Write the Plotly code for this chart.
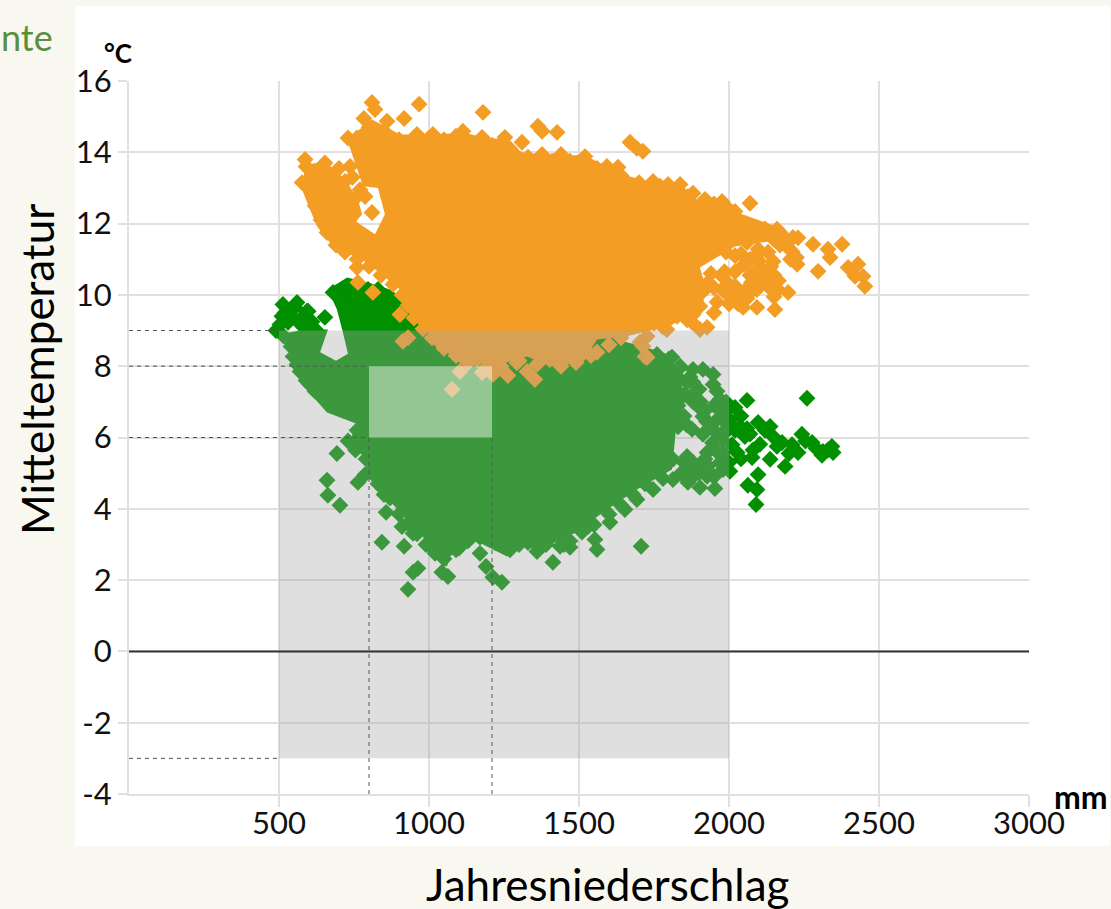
import plotly.graph_objects as go

# Outline of the solid part of each cloud (precipitation mm, temperature C)
green_core_x = [497,570,663,637,690,730,710,693,663,727,797,870,970,1570,1627,1747,1797,1840,1850,1823,1810,1770,1693,1580,1493,1437,1360,1313,1260,1147,1070,1060,1027,970,903,827,793,730,763,660,577,547]
green_core_y = [8.89,9.0,9.03,8.39,8.15,8.35,9.05,9.59,10.15,10.49,10.35,10.15,9.59,9.59,8.75,8.47,8.33,7.7,7.0,6.2,5.1,4.91,4.54,3.9,3.34,3.14,2.78,3.06,2.66,3.14,2.66,2.38,2.58,3.34,3.9,4.63,5.39,5.86,6.37,6.7,7.49,8.27]
orange_core_x = [570,597,653,720,763,777,757,820,853,830,780,727,810,903,1037,1113,1177,1253,1310,1370,1437,1513,1593,1670,1737,1837,1880,1970,2027,2160,2180,2020,1903,1920,1913,1837,1803,1737,1660,1560,1513,1403,1327,1213,1103,1037,980,913,903,793,680,627,603]
orange_core_y = [13.1,13.66,13.74,13.24,12.68,12.26,12.06,11.7,12.26,13.0,13.05,14.36,14.92,14.5,14.5,14.56,14.42,14.36,14.0,13.94,13.88,13.94,13.6,13.32,13.16,13.1,12.68,12.68,12.31,11.92,11.56,11.36,10.77,10.3,9.59,9.3,9.12,9.0,8.84,8.75,8.11,8.0,8.27,8.0,8.27,8.67,9.03,9.68,10.15,10.91,11.36,11.92,12.4]

# Individual diamonds
green_x = [2060,2260,2020,2003,2037,2053,2097,2137,2147,2103,2177,2243,2277,2230,2027,2077,2137,2187,2003,2097,2063,2093,2090,2313,2343,2347,
           2020,2040,2060,2080,2120,2160,2200,2210,2255,2290,2310,2330,2040,2010,2070,
           1760,1810,1837,1880,1913,1947,1947,1827,1860,1870,1970,1980,1913,1877,1913,1980,1980,1927,1860,1813,1813,1863,1903,1953,1980,1927,1747,1693,1653,1603,1553,1560,1470,1437,1707,
           1850,1900,1830,1850,1900,1950,1830,1850,1890,1930,1970,1960,1950,1975,1880,1990,1840,
           1870,1860,1905,1925,1945,1960,1920,1830,1800,1880,1990,1960,1985,2000,1995,1900,1860,1950,1885,1920,1880,
           693,660,663,703,763,787,810,857,910,947,917,843,963,947,930,1063,1043,1170,1190,1213,1243,1263,1413,
           503,520,553,593,570,653,530,513,560,597,
           547,570,603,653,720,727,680,797,853,713,
           1000,1100,1200,1300,1360,1450,1530,
           870,900,930,960,990,1020,1050,1090,1130,1170,1220,1270,1330,1390,1470,1510,1550,1600,1640,1680,1720,1780,
           560,590,620,680,720,780,760,730,755,790,810,830,850,
           490,515,540,510,540,575,610,625,600,700,760,830]
green_y = [7.04,7.1,6.84,6.5,6.31,6.03,6.42,6.31,6.03,5.81,5.86,6.09,5.86,5.58,5.58,5.44,5.39,5.19,5.05,4.96,4.66,4.54,4.12,5.61,5.75,5.58,
           6.2,6.6,6.25,5.65,6.2,5.75,5.55,5.8,5.9,5.7,5.5,5.65,5.4,5.8,6.1,
           8.33,8.25,8.0,7.91,7.91,7.77,7.49,7.71,7.55,7.15,7.07,6.7,6.59,6.23,6.09,6.14,5.58,5.58,5.47,5.39,4.82,4.74,4.6,4.57,5.1,4.91,4.54,4.26,3.98,3.62,3.14,2.86,2.92,2.95,2.95,
           7.2,7.35,6.9,6.6,6.85,6.9,6.3,5.3,5.2,5.2,5.3,6.5,6.2,5.95,7.0,6.4,5.0,
           7.7,6.35,7.0,6.45,5.85,5.6,6.75,7.9,8.2,7.55,7.0,7.3,6.7,5.3,6.2,5.0,5.05,4.9,4.95,5.4,5.3,
           5.55,4.8,4.38,4.1,4.74,4.96,5.1,3.9,3.5,3.31,2.95,3.06,2.33,2.22,1.74,2.1,2.22,2.75,2.38,2.08,1.94,2.92,2.5,
           9.17,9.5,9.65,9.54,9.31,9.37,9.23,9.73,9.79,9.54,
           8.27,7.85,7.49,7.21,6.84,10.24,10.07,10.15,9.96,9.79,
           3.0,2.9,3.2,3.0,2.8,3.0,3.5,
           4.3,3.85,3.6,3.3,3.0,2.75,2.6,2.85,3.1,3.2,3.05,2.85,3.05,3.0,3.1,3.35,3.55,3.85,4.1,4.4,4.7,4.85,
           8.05,7.6,7.3,7.0,6.85,6.5,6.2,5.9,5.65,5.4,5.0,4.7,4.4,
           9.0,8.85,8.55,9.4,9.4,9.15,9.25,9.0,9.05,10.0,10.3,10.15]
orange_x = [810,820,967,917,783,730,587,653,577,860,1013,960,
            1180,1363,1377,1427,1113,1177,1253,1310,1330,1377,1440,1520,1593,1630,1670,1693,1713,1747,1797,1837,1863,1920,1977,2020,2070,
            2160,2103,2213,2210,2227,2280,2330,2377,2337,2297,2397,2430,2447,2453,2420,2147,2097,2060,2013,2070,2093,2120,2093,2163,2197,2153,2093,2047,2027,2070,1977,1977,1930,1910,1903,1877,1903,1927,1793,1827,1770,1703,1720,1727,
            903,930,913,1027,1070,1103,1077,1177,1213,1263,1327,1353,1403,1160,1293,1103,1503,1560,1713,1727,
            763,813,760,737,680,720,810,787,760,
            760,800,850,900,950,1000,1050,1090,1140,1210,1270,1340,1410,1470,1560,1640,1700,1770,1830,1880,1950,2000,2060,2120,
            590,620,610,640,700,620,640,660,690,720,760,800,840,880,910,930,950,980,1010,1050,1090,1130,1190,1240,1300,1360,1440,1490,1540,1600,1640,
            2040,2090,2130,2170,2050,2100,2140,1940,1985,2020,2070,2110,2150,1950,2000,2020,2060,2100,2130,2150,1960,2000,1950,1880,1860,1850,1800,1780,1750,2200,2225,2205,2190,2230,
            1935,1990,2030,2050,2075,2110,2130,2165,1990,2020,2150,2170,745,770]
orange_y = [15.4,15.2,15.35,14.95,14.95,14.4,13.8,13.7,13.15,14.87,14.5,14.5,
            15.12,14.73,14.59,14.56,14.59,14.42,14.42,14.28,13.86,13.94,13.94,13.88,13.6,13.58,14.28,14.11,14.03,13.18,13.1,13.1,12.76,12.68,12.62,12.34,12.57,
            11.84,11.75,11.61,11.22,10.86,11.42,11.28,11.42,11.05,10.66,10.77,10.86,10.52,10.24,10.52,10.94,11.28,11.47,11.64,11.0,10.72,10.49,10.15,10.15,10.07,9.59,9.65,9.65,9.93,10.07,10.15,10.52,10.35,10.07,9.68,9.23,9.03,9.09,9.03,9.4,9.31,8.67,8.27,8.84,
            9.45,8.8,8.7,8.75,8.56,7.85,7.35,7.82,7.77,7.74,7.85,7.63,8.19,8.19,8.1,8.33,8.27,8.39,8.56,8.25,
            10.35,10.07,10.77,13.6,13.33,13.18,12.31,12.76,12.76,
            14.4,14.7,14.6,14.35,14.4,14.4,14.35,14.45,14.25,14.2,14.1,13.75,13.75,13.75,13.55,13.35,13.15,13.05,12.95,12.85,12.55,12.4,12.0,11.85,
            13.6,13.45,13.0,13.4,13.55,12.5,12.1,11.75,11.4,11.2,11.0,10.8,10.55,10.3,10.0,9.7,9.35,9.05,8.8,8.5,8.3,8.1,7.95,8.0,8.15,8.05,8.0,8.1,8.3,8.6,8.8,
            11.15,11.1,11.2,11.4,10.85,10.95,10.8,10.6,10.65,10.65,10.55,10.7,10.55,10.2,10.3,10.25,9.9,10.3,10.25,9.95,9.8,9.75,9.5,9.45,9.3,9.6,9.5,9.1,9.2,11.3,11.05,11.0,11.55,11.6,
            10.3,10.05,9.75,10.1,10.35,10.45,10.6,10.4,11.2,11.1,11.55,11.75,13.3,12.95]

x_ticks = [500, 1000, 1500, 2000, 2500, 3000]
y_ticks = [-4, -2, 0, 2, 4, 6, 8, 10, 12, 14, 16]
y_labels = ["-4", "-2", "0", "2", "4", "6", "8", "10", "12", "14", "16"]
ref_lines = [(0, 9, 500, 9), (0, 8, 800, 8), (0, 6, 800, 6), (0, -3, 500, -3), (800, -4, 800, 6), (1210, -4, 1210, 6)]

GREEN = "#009000"
ORANGE = "#f49d25"
GRID = "#e0e0e0"
FONT = "Lato"

fig = go.Figure()
fig.add_trace(go.Scatter(x=green_core_x, y=green_core_y, mode="lines", fill="toself", fillcolor=GREEN, line=dict(width=0), hoverinfo="skip"))
fig.add_trace(go.Scatter(x=green_x, y=green_y, mode="markers", marker=dict(symbol="diamond", size=13, color=GREEN, line=dict(width=0))))
fig.add_trace(go.Scatter(x=orange_core_x, y=orange_core_y, mode="lines", fill="toself", fillcolor=ORANGE, line=dict(width=0), hoverinfo="skip"))
fig.add_trace(go.Scatter(x=orange_x, y=orange_y, mode="markers", marker=dict(symbol="diamond", size=13, color=ORANGE, line=dict(width=0))))

shapes = [
    dict(type="rect", xref="paper", yref="paper", x0=(75-129)/900, x1=(1110-129)/900, y0=(794-846)/713, y1=(794-6)/713,
         fillcolor="white", line=dict(width=0), layer="below"),
    dict(type="rect", x0=500, x1=2000, y0=-3, y1=9, fillcolor="rgba(166,166,166,0.36)", line=dict(width=0), layer="above"),
    dict(type="rect", x0=800, x1=1210, y0=6, y1=8, fillcolor="rgba(255,255,255,0.45)", line=dict(width=0), layer="above"),
    dict(type="line", x0=0, x1=3000, y0=0, y1=0, line=dict(color="#333333", width=2), layer="above"),
]
for x0, y0, x1, y1 in ref_lines:
    shapes.append(dict(type="line", x0=x0, x1=x1, y0=y0, y1=y1, line=dict(color="#555555", width=1, dash="4px,4px"), layer="above"))

def paper(px, py):
    return (px-129)/900, (794-py)/713

annotations = []
def note(text, px, py, size, color="black", anchor="center", angle=0):
    xp, yp = paper(px, py)
    annotations.append(dict(text=text, x=xp, y=yp, xref="paper", yref="paper", xanchor=anchor, yanchor="middle",
                            showarrow=False, textangle=angle, font=dict(family=FONT, size=size, color=color)))
note("<b>°C</b>", 118, 53, 26)
note("<b>mm</b>", 1081, 796, 32)
note("Mitteltemperatur", 37, 370, 44, angle=-90)
note("Jahresniederschlag", 607, 884, 44)
note("nte", 55, 37, 36, color="#5a8f3c", anchor="right")

fig.update_layout(
    width=1111, height=909, margin=dict(l=129, r=82, t=81, b=115),
    paper_bgcolor="#f8f8f1", plot_bgcolor="white", showlegend=False,
    shapes=shapes, annotations=annotations,
    font=dict(family=FONT, size=31, color="#111111"),
    xaxis=dict(range=[0, 3000], tickvals=x_ticks, showgrid=True, gridcolor=GRID, gridwidth=2, zeroline=False,
               ticks="outside", ticklen=11, tickwidth=2, tickcolor=GRID, showline=True, linecolor=GRID, linewidth=2,
               ticklabelstandoff=-10),
    yaxis=dict(range=[-4, 16], tickvals=y_ticks, ticktext=y_labels, showgrid=True, gridcolor=GRID, gridwidth=2, zeroline=False,
               ticks="outside", ticklen=9, tickwidth=2, tickcolor=GRID, showline=True, linecolor=GRID, linewidth=2),
)
fig.write_html("out.html", config=dict(displayModeBar=False),
               post_script="document.body.style.margin='0';document.body.style.overflow='hidden';")
